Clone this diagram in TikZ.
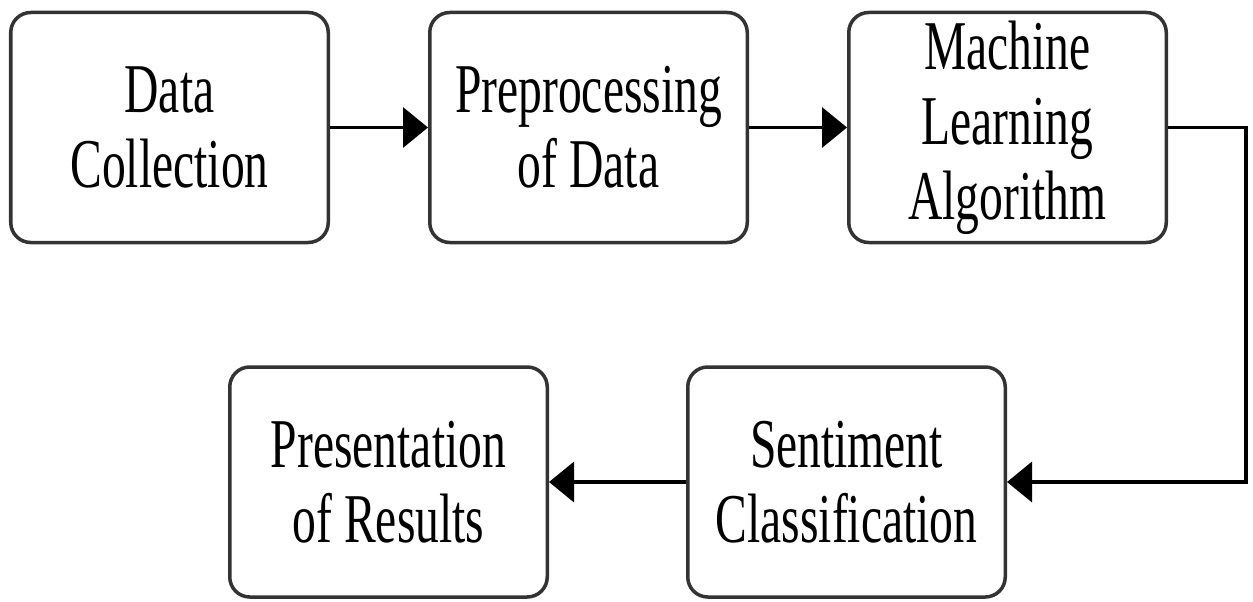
\documentclass[tikz,border=0pt]{standalone}
\usepackage{fontspec}
\setmainfont{Liberation Serif}[FakeStretch=0.68]
\usepackage{tikz}
\usetikzlibrary{calc}
\usetikzlibrary{arrows.meta, positioning}

\begin{document}
\begin{tikzpicture}[
  node distance=1.96cm,
  >={Triangle[length=5mm,width=8mm]},
  box/.style={rounded corners=4mm, draw=black!80, line width=0.07cm, fill=white, align=center, minimum width=6.35cm, minimum height=4.6cm, inner sep=2pt, font=\fontsize{39.8pt}{42.7pt}\selectfont},
  arrow/.style={->, line width=0.07cm, draw=black},
  line/.style={line width=0.07cm, draw=black}
]

\useasboundingbox (0,0) rectangle (25.06,-12.04);

\node[box] (collect) at (3.39,-2.55) {Data\\ Collection};

\node[box, right=of collect] (prep) {Preprocessing\\ of Data};

\node[box, right=of prep] (ml) {Machine\\ Learning\\ Algorithm};

\node[box] (senti) at (16.93,-9.64) {Sentiment\\ Classification};

\node[box, left=2.74cm of senti] (result) {Presentation\\ of Results};

\draw[arrow] (collect) -- (prep);
\draw[arrow] (prep) -- (ml);
\draw[arrow] (ml.east) -- ++(1.56,0) |- (senti.east);
\draw[arrow] (senti) -- (result);

\end{tikzpicture}
\end{document}
